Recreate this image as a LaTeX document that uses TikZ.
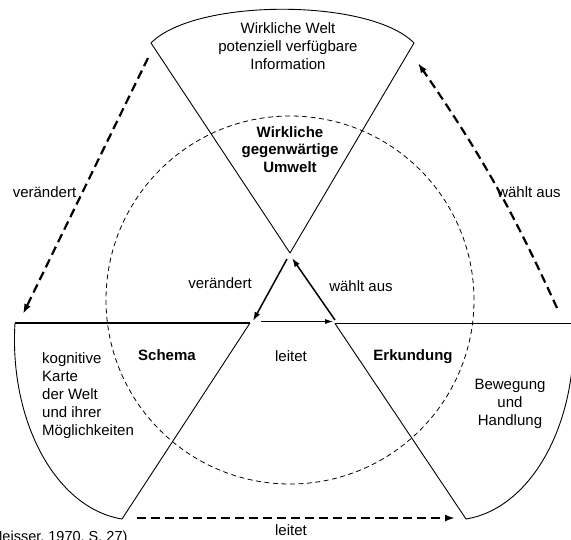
\documentclass[tikz,border=0pt]{standalone}
\usepackage{fontspec}
\setmainfont{Liberation Sans}
\usetikzlibrary{arrows.meta}
\begin{document}
\begin{tikzpicture}[x=1pt,y=-1pt,
  wedge/.style={line width=0.9pt, line join=round},
  edgethick/.style={line width=1.5pt},
  ring/.style={dash pattern=on 5pt off 3.5pt, line width=0.8pt},
  bigarrow/.style={dash pattern=on 9pt off 5pt, line width=2.2pt, -{Latex[length=10pt,width=7pt]}},
  midarrow/.style={line width=1.5pt, -{Latex[length=9pt,width=6pt]}},
  thinarrow/.style={line width=0.8pt, -{Latex[length=8pt,width=5pt]}},
  lbl/.style={font=\fontsize{15}{18}\selectfont, inner sep=0pt, anchor=base},
  bold/.style={lbl, font=\fontsize{15}{17.5}\selectfont\bfseries},
]
\useasboundingbox (0,0) rectangle (571,539);
\fill[white] (0,0) rectangle (571,539);
\clip (0,0) rectangle (571,539);

% wedge corners
\coordinate (tA) at (290,253);
\coordinate (tL) at (151,43);
\coordinate (tR) at (414,43);
\coordinate (lA) at (250,323);
\coordinate (lT) at (15,323);
\coordinate (lB) at (122,519);
\coordinate (rA) at (335,323.5);
\coordinate (rT) at (573,323.5);
\coordinate (rB) at (466,519);

% dashed circle
\coordinate (cc) at (290,300);
\draw[ring] (cc) circle[radius=184pt];

% wedges
\draw[wedge] (tA) -- (tL) .. controls (195,-2) and (370,-2) .. (tR) -- cycle;
\draw[wedge] (lT) .. controls (9,420) and (55,508) .. (lB) -- (lA);
\draw[edgethick] (lT) -- (lA);
\draw[wedge] (rT) .. controls (579,420) and (533,508) .. (rB) -- (rA) -- (rT);
\draw[edgethick] (473,323.5) -- (518,323.5);

% outer dashed arrows
\coordinate (o1s) at (148,58);
\coordinate (o1e) at (23,314);
\coordinate (o2s) at (557,308);
\coordinate (o2e) at (418,63);
\coordinate (o3s) at (137,518);
\coordinate (o3e) at (455,518);
\draw[bigarrow] (o1s) -- (o1e);
\draw[bigarrow] (o2s) to[bend right=5] (o2e);
\draw[bigarrow] (o3s) -- (o3e);

% inner arrows
\coordinate (i1s) at (287,259);
\coordinate (i1e) at (253,321);
\coordinate (i2s) at (335,320);
\coordinate (i2e) at (292,258);
\coordinate (i3s) at (261,321.5);
\coordinate (i3e) at (333,321.5);
\draw[midarrow] (i1s) -- (i1e);
\draw[midarrow] (i2s) -- (i2e);
\draw[thinarrow] (i3s) -- (i3e);

% labels (multi-line nodes: base = last line's baseline)
\node[lbl, align=center] (welt) at (288,69) {Wirkliche Welt\\potenziell verfügbare\\Information};
\node[bold, align=center] (umwelt) at (290,172) {Wirkliche\\gegenwärtige\\Umwelt};
\node[lbl] (v1) at (44.5,197) {verändert};
\node[lbl] (w1) at (529,197) {wählt aus};
\node[lbl] (v2) at (220,288) {verändert};
\node[lbl] (w2) at (361,291) {wählt aus};
\node[lbl] (l1) at (291,361) {leitet};
\node[bold] (schema) at (167,360) {Schema};
\node[bold] (erk) at (413,360) {Erkundung};
\node[lbl, align=left, anchor=base west] (karte) at (42,435) {kognitive\\Karte\\der Welt\\und ihrer\\Möglichkeiten};
\node[lbl, align=center] (beweg) at (510,425) {Bewegung\\und\\Handlung};
\node[lbl] (l2) at (291,535) {leitet};
\node[lbl, anchor=base west, font=\fontsize{14.5}{17}\selectfont] (src) at (-13,541) {(Neisser, 1970, S. 27)};
\end{tikzpicture}
\end{document}
